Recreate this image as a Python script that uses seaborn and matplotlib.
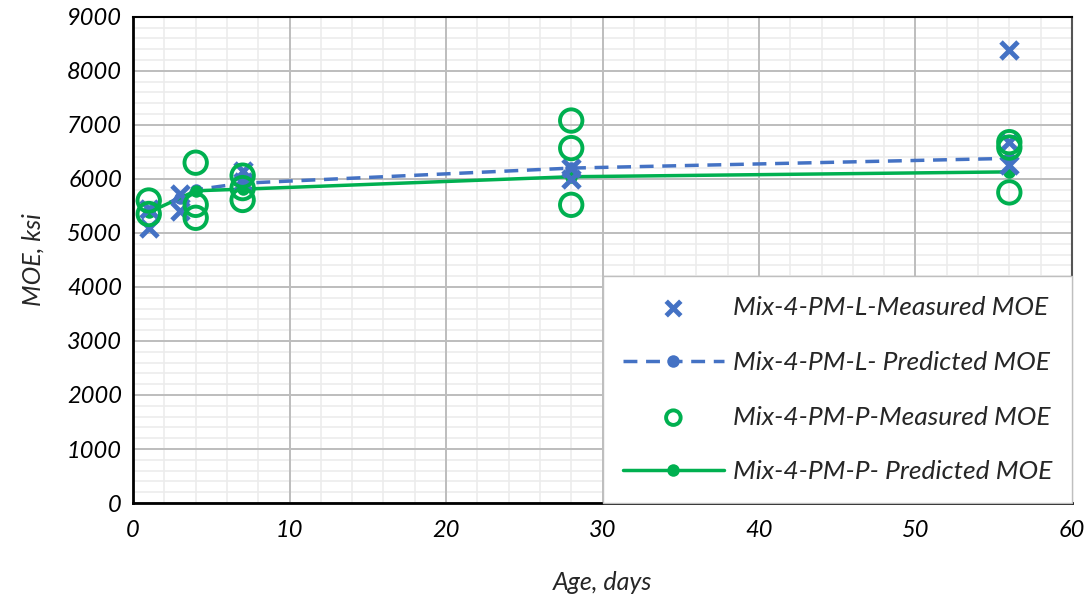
import numpy as np
import pandas as pd
import matplotlib.pyplot as plt
import seaborn as sns
from matplotlib.collections import PathCollection
from matplotlib.ticker import MultipleLocator

# measured MOE (ksi) vs age (days)
l_meas_age = [1, 1, 3, 3, 7, 7, 28, 28, 56, 56, 56]
l_meas_moe = [5100, 5450, 5720, 5400, 6150, 5950, 6200, 6000, 8380, 6680, 6250]
p_meas_age = [1, 1, 4, 4, 4, 7, 7, 7, 28, 28, 28, 56, 56, 56]
p_meas_moe = [5600, 5350, 6300, 5520, 5280, 6060, 5830, 5610, 7080, 6570, 5520, 6680, 6580, 5750]

# predicted MOE
l_pred_age = [1, 3, 4, 7, 28, 56]
l_pred_moe = [5400, 5650, 5800, 5920, 6200, 6380]
p_pred_age = [1, 4, 7, 28, 56]
p_pred_moe = [5380, 5780, 5810, 6040, 6130]

labels = ["Mix-4-PM-L-Measured MOE", "Mix-4-PM-L- Predicted MOE",
          "Mix-4-PM-P-Measured MOE", "Mix-4-PM-P- Predicted MOE"]
blue = "#4472C4"
green = "#00B050"

sns.set_style("white")
plt.rcParams["font.family"] = ["Lato", "DejaVu Sans"]

fig = plt.figure(figsize=(10.91, 6.01), dpi=100)
ax = fig.add_axes([0.122, 0.163, 0.8605, 0.809])

ax.set_xlim(0, 60)
ax.set_ylim(0, 9000)
ax.xaxis.set_major_locator(MultipleLocator(10))
ax.xaxis.set_minor_locator(MultipleLocator(2))
ax.yaxis.set_major_locator(MultipleLocator(1000))
ax.yaxis.set_minor_locator(MultipleLocator(200))

# minor grid first, major grid on top of it
ax.vlines(np.arange(0, 61, 2), 0, 9000, color="#ececec", lw=1.2, zorder=0.5)
ax.hlines(np.arange(0, 9001, 200), 0, 60, color="#ececec", lw=1.2, zorder=0.5)
ax.grid(which="major", color="#bdbdbd", lw=1.4)
ax.set_axisbelow(True)

sns.lineplot(x=l_pred_age, y=l_pred_moe, ax=ax, color=blue, lw=2.5,
             linestyle=(0, (4, 2.5)), marker="o", markersize=9,
             markeredgewidth=0, label=labels[1], zorder=3)
sns.lineplot(x=p_pred_age, y=p_pred_moe, ax=ax, color=green, lw=2.5,
             marker="o", markersize=9, markeredgewidth=0, label=labels[3], zorder=3)
sns.scatterplot(x=l_meas_age, y=l_meas_moe, ax=ax, marker="x", color=blue,
                s=150, linewidth=3.5, label=labels[0], zorder=4)
sns.scatterplot(x=p_meas_age, y=p_meas_moe, ax=ax, marker="o", facecolor="none",
                edgecolor=green, s=260, linewidth=2.8, label=labels[2], zorder=5)

ax.set_xlim(0, 60)
ax.set_ylim(0, 9000)
ax.tick_params(which="major", direction="inout", length=12, width=1.5,
               labelsize=17, colors="black")
ax.tick_params(which="minor", direction="inout", length=8, width=1.2)
ax.tick_params(axis="x", which="minor", direction="out", length=7)
ax.tick_params(axis="x", which="major", pad=6)
ax.tick_params(axis="y", which="major", pad=2)
for lab in ax.get_xticklabels() + ax.get_yticklabels():
    lab.set_fontstyle("italic")

for side in ["left", "bottom"]:
    ax.spines[side].set_color("black")
    ax.spines[side].set_linewidth(2)
ax.spines["top"].set_color("black")
ax.spines["top"].set_linewidth(1.5)
ax.spines["right"].set_color("#555555")
ax.spines["right"].set_linewidth(1.5)

ax.set_xlabel("Age, days", fontsize=18, style="italic", labelpad=22)
ax.set_ylabel("MOE, ksi", fontsize=18, style="italic", labelpad=16)

handles, labs = ax.get_legend_handles_labels()
order = [labs.index(l) for l in labels]
leg = ax.legend([handles[i] for i in order], [labs[i] for i in order],
                loc="lower right", bbox_to_anchor=(1.0, 0.0),
                prop={"style": "italic", "size": 19}, frameon=True,
                fancybox=False, edgecolor="#bfbfbf", framealpha=1,
                borderpad=0.75, labelspacing=1.2, handlelength=3.8,
                handletextpad=0.35, borderaxespad=0)
for h in leg.legend_handles:
    if isinstance(h, PathCollection):
        h.set_sizes([110])

fig.savefig("out.png", dpi=100)
